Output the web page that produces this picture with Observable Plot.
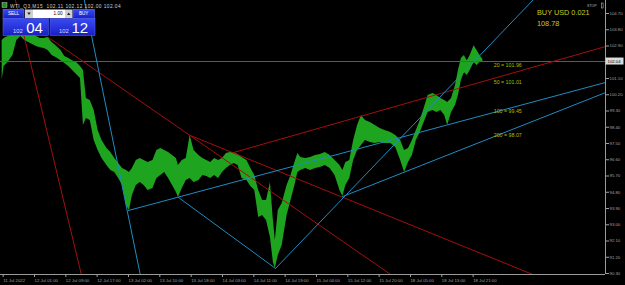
<!DOCTYPE html>
<html>
<head>
<meta charset="utf-8">
<script src="https://cdn.jsdelivr.net/npm/d3@7"></script>
<script src="https://cdn.jsdelivr.net/npm/@observablehq/plot@0.6"></script>
<style>
  html, body { margin: 0; padding: 0; background: #000; }
  #wrap { width: 625px; height: 285px; overflow: hidden; background: #000; }
</style>
</head>
<body>
<div id="wrap"></div>
<script>
// ---- price path (M15 bar index, high / low) ----
const bars = [0,2,6,11,15,19,23,27,31,35,39,43,47,51,55,60,64,68,72,76,80,83,86,90,94,98,102,107,111,115,119,123,127,130,133,137,141,145,149,154,158,162,166,170,174,178,180,184,188,192,196,201,205,209,213,217,221,225,229,233,237,241,245,250,254,258,262,266,270,274,277,279,282,286,291,295,299,302,305,310,315,320,325,330,335,340,345,348,351,355,359,363,367,371,376,381,386,391,397,402,407,411,415,419,423,427,431,435,440,444,448,452,455,459,463,466,469,472,475,478,482,485,488,491];
const highs = [103.20,103.31,103.42,103.53,103.87,104.09,103.98,103.76,103.65,103.42,103.31,103.31,103.37,103.09,102.92,102.65,102.32,102.21,102.09,101.98,101.76,101.54,99.99,99.88,99.33,98.22,97.67,97.22,97.00,96.67,96.39,96.12,96.00,95.89,96.12,96.56,96.67,96.56,96.45,96.56,97.11,97.22,97.11,97.00,96.83,96.67,96.28,96.56,96.67,97.94,97.11,96.83,96.67,96.56,96.45,96.67,96.56,96.67,96.94,97.00,97.00,96.89,96.72,96.56,96.12,95.73,94.90,94.34,94.34,95.34,93.24,92.13,93.79,94.18,95.17,95.73,96.45,96.94,96.72,96.67,96.72,96.83,96.89,97.00,96.83,96.56,96.28,96.00,96.45,96.56,97.67,98.50,99.05,98.77,98.66,98.50,98.33,98.22,98.11,97.94,97.67,97.11,97.22,97.67,98.22,98.77,99.44,100.16,100.27,100.16,99.99,99.88,99.77,99.99,100.71,101.54,102.21,102.37,102.09,102.37,102.92,102.65,102.37,102.15];
const lows = [100.99,101.76,101.98,102.37,103.20,103.42,103.20,103.09,102.98,102.87,102.81,102.76,102.65,102.37,102.26,102.09,101.93,101.76,101.54,101.32,101.10,98.50,98.89,98.77,97.67,97.11,96.67,96.28,96.00,95.89,95.56,95.17,94.07,93.79,94.62,95.17,95.34,95.17,94.90,95.01,95.56,95.73,95.89,95.56,95.17,94.79,94.51,95.01,95.45,95.56,95.34,95.45,95.73,95.67,95.56,95.73,95.56,95.89,96.12,96.28,96.39,96.28,95.56,95.45,95.12,94.90,93.40,93.51,93.24,92.30,90.91,90.58,91.30,91.85,93.51,94.34,95.17,95.89,96.00,96.12,96.00,96.12,96.17,96.28,96.12,95.73,94.90,94.57,95.17,95.56,96.56,97.11,97.39,97.67,97.55,97.50,97.55,97.50,97.50,97.28,96.56,95.89,96.45,96.83,97.67,98.11,98.66,99.22,99.33,99.22,99.33,99.05,98.50,99.22,99.60,100.16,100.99,101.43,101.27,101.54,101.98,101.82,101.98,101.98];
const currentPrice = 102.04;

// ---- trend lines (anchor bar / price pairs) ----
const trendColors = ["red","red","red","red","blue","blue","blue","blue","blue"];
const trendX1 = [21.0, 47.3, 192.5, 236.3, 90.2, 129.0, 180.1, 279.2, 347.6];
const trendP1 = [103.76, 103.37, 97.94, 97.00, 103.76, 93.79, 94.51, 90.58, 94.56];
const trendX2 = [57.8, 396.6, 541.7, 616.2, 120.8, 616.2, 279.2, 541.7, 616.2];
const trendP2 = [95.45, 90.25, 90.25, 102.87, 95.62, 100.88, 90.58, 105.42, 100.32];
const trendExtend = ["both","right","right","right","both","right","none","right","right"];

// ---- moving-average labels ----
const maPeriods = [20, 50, 100, 200];
const maValues = [101.96, 101.01, 99.45, 98.07];
const maLabelBar = 502;

// ---- axis tick labels ----
const xTickBars = [0,32,64,96,128,160,192,224,256,288,320,352,384,416,448,480];
const xTickLabels = ["11 Jul 2022","12 Jul 01:00","12 Jul 09:00","12 Jul 17:00","13 Jul 02:00","13 Jul 10:00","13 Jul 18:00","14 Jul 03:00","14 Jul 11:00","14 Jul 19:00","15 Jul 04:00","15 Jul 12:00","15 Jul 20:00","18 Jul 05:00","18 Jul 13:00","18 Jul 21:00"];
// 102.00 is hidden behind the current-price box in the reference
const yTicks = [90.30,91.20,92.10,93.00,93.90,94.80,95.70,96.60,97.50,98.40,99.30,100.20,101.10,102.90,103.80,104.70];

const X0 = -1.7, X1 = 616.2, Y0 = 90.245, Y1 = 105.42;
const COL = {red: "#a50e0e", blue: "#1f8cc2"};

const price = bars.map((b, i) => ({bar: b, high: highs[i], low: lows[i]}));

const segs = [];
trendX1.forEach((x1, i) => {
  const p1 = trendP1[i], x2 = trendX2[i], p2 = trendP2[i];
  const m = (p2 - p1) / (x2 - x1);
  let a = {x: x1, y: p1}, b = {x: x2, y: p2};
  if (trendExtend[i] === "both") a = {x: X0, y: p1 + m * (X0 - x1)};
  if (trendExtend[i] !== "none") b = {x: X1, y: p1 + m * (X1 - x1)};
  segs.push({id: i, c: COL[trendColors[i]], ...a});
  segs.push({id: i, c: COL[trendColors[i]], ...b});
});

const maData = maPeriods.map((p, i) => ({bar: maLabelBar, v: maValues[i], t: `${p} = ${maValues[i].toFixed(2)}`}));

const chart = Plot.plot({
  width: 625, height: 285,
  marginLeft: 0, marginRight: 20, marginTop: 0, marginBottom: 11,
  style: {background: "#000", color: "#a8a8a8", fontFamily: "Liberation Sans, Arial, sans-serif", fontSize: "4.3px", overflow: "visible"},
  x: {domain: [X0, X1]},
  y: {domain: [Y0, Y1]},
  marks: [
    Plot.areaY(price, {x: "bar", y1: "low", y2: "high", fill: "#1fa41f", curve: "linear"}),
    Plot.ruleY([currentPrice], {stroke: "#5c5c5c", strokeWidth: 1}),
    Plot.line(segs, {x: "x", y: "y", z: "id", stroke: "c", strokeWidth: 1, clip: true}),
    Plot.text(maData, {x: "bar", y: "v", text: "t", textAnchor: "start", lineAnchor: "top", dy: 0.5, fill: "#b8b800", fontSize: 5.3}),
    Plot.ruleX([X1], {stroke: "#9a9a9a"}),
    Plot.ruleY([Y0], {stroke: "#9a9a9a"}),
    Plot.axisX({ticks: xTickBars, tickFormat: (d) => xTickLabels[xTickBars.indexOf(d)], anchor: "bottom", tickSize: 3, tickPadding: 1.5, textAnchor: "start", dx: 1, color: "#a0a0a0", label: null, fontSize: 4.3}),
    Plot.axisY({ticks: yTicks, tickFormat: ".2f", anchor: "right", tickSize: 3, tickPadding: 1, color: "#a0a0a0", label: null, fontSize: 4.3})
  ]
});
document.getElementById("wrap").appendChild(chart);

// ---- overlays (terminal UI drawn on top) ----
const svg = d3.select(chart);
const ys = chart.scale("y");
const yc = ys.apply(currentPrice);
const box = svg.append("g").attr("text-anchor", "start").attr("font-family", "Liberation Sans, sans-serif");
box.append("rect").attr("x", 605.5).attr("y", yc - 3.5).attr("width", 18).attr("height", 7).attr("fill", "#dadada");
box.append("text").attr("x", 607.5).attr("y", yc + 1.6).attr("font-size", 4.3).attr("fill", "#000").text(currentPrice.toFixed(2));

const defs = svg.append("defs");
const gr = defs.append("linearGradient").attr("id", "pblue").attr("x1", 0).attr("y1", 0).attr("x2", 0).attr("y2", 1);
gr.append("stop").attr("offset", "0%").attr("stop-color", "#3b4af2");
gr.append("stop").attr("offset", "100%").attr("stop-color", "#1820c4");

const ui = svg.append("g").attr("font-family", "Liberation Sans, Arial, sans-serif").attr("text-anchor", "start");
ui.append("rect").attr("x", 2).attr("y", 2.5).attr("width", 5).attr("height", 5).attr("fill", "#2a8a2a").attr("stroke", "#ddd").attr("stroke-width", 0.4);
ui.append("text").attr("x", 10).attr("y", 7.6).attr("font-size", 4.8).attr("letter-spacing", 0.45).attr("fill", "#d0d0d0")
  .attr("xml:space", "preserve").text("WTI_Q3,M15  102.11 102.12 102.00 102.04");
// buttons row
ui.append("rect").attr("x", 3).attr("y", 9.3).attr("width", 21).attr("height", 9).attr("fill", "url(#pblue)").attr("stroke", "#6f7cff").attr("stroke-width", 0.5);
ui.append("text").attr("x", 13.5).attr("y", 15.4).attr("text-anchor", "middle").attr("font-size", 4.6).attr("fill", "#fff").text("SELL");
ui.append("rect").attr("x", 25).attr("y", 9.5).attr("width", 8).attr("height", 8.6).attr("fill", "#cfcfcf");
ui.append("path").attr("d", "M27.3 12.5 L30.7 12.5 L29 15 Z").attr("fill", "#222");
ui.append("rect").attr("x", 33).attr("y", 9.5).attr("width", 32).attr("height", 8.6).attr("fill", "#fff");
ui.append("text").attr("x", 62.5).attr("y", 15.4).attr("text-anchor", "end").attr("font-size", 4.6).attr("fill", "#000").text("1.00");
ui.append("rect").attr("x", 65).attr("y", 9.5).attr("width", 7.5).attr("height", 8.6).attr("fill", "#cfcfcf");
ui.append("path").attr("d", "M67 15 L70.4 15 L68.7 12.5 Z").attr("fill", "#222");
ui.append("rect").attr("x", 73).attr("y", 9.3).attr("width", 21.5).attr("height", 9).attr("fill", "url(#pblue)").attr("stroke", "#6f7cff").attr("stroke-width", 0.5);
ui.append("text").attr("x", 83.7).attr("y", 15.4).attr("text-anchor", "middle").attr("font-size", 4.6).attr("fill", "#fff").text("BUY");
// big price panels
ui.append("rect").attr("x", 3).attr("y", 18.5).attr("width", 45.5).attr("height", 17).attr("fill", "url(#pblue)").attr("stroke", "#5a68ff").attr("stroke-width", 0.5);
ui.append("rect").attr("x", 50).attr("y", 18.5).attr("width", 45).attr("height", 17).attr("fill", "url(#pblue)").attr("stroke", "#5a68ff").attr("stroke-width", 0.5);
ui.append("text").attr("x", 13).attr("y", 32.8).attr("font-size", 5.8).attr("fill", "#d8d8ff").text("102");
ui.append("text").attr("x", 26.2).attr("y", 32.8).attr("font-size", 15).attr("fill", "#fff").text("04");
ui.append("text").attr("x", 59).attr("y", 32.8).attr("font-size", 5.8).attr("fill", "#d8d8ff").text("102");
ui.append("text").attr("x", 71.5).attr("y", 32.8).attr("font-size", 15).attr("fill", "#fff").text("12");
// top-right info
ui.append("text").attr("x", 537).attr("y", 15).attr("font-size", 7.3).attr("fill", "#c8c820").text("BUY USD 0.021");
ui.append("text").attr("x", 537).attr("y", 26).attr("font-size", 7.3).attr("fill", "#c8c820").text("108.78");
ui.append("text").attr("x", 587).attr("y", 7).attr("font-size", 3.6).attr("fill", "#bbb").text("STOP");
ui.append("rect").attr("x", 601.3).attr("y", 3).attr("width", 1.8).attr("height", 5).attr("fill", "none").attr("stroke", "#ccc").attr("stroke-width", 0.5);
</script>
</body>
</html>
